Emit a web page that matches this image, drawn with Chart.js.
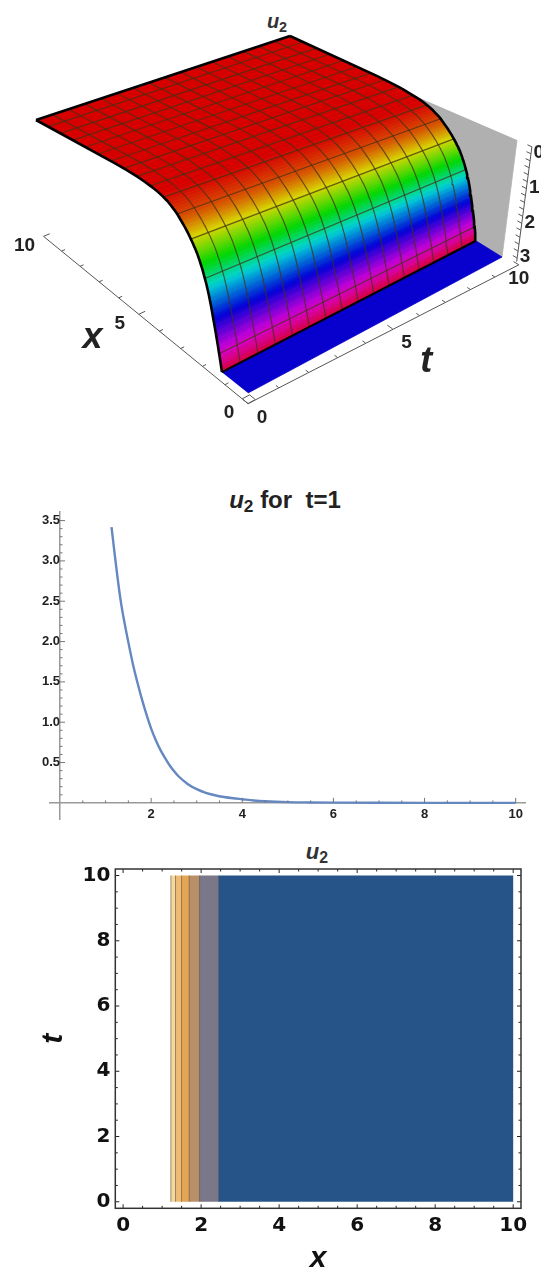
<!DOCTYPE html>
<html>
<head>
<meta charset="utf-8">
<title>u2</title>
<script src="https://cdn.jsdelivr.net/npm/chart.js@4/dist/chart.umd.min.js"></script>
<style>
  html, body { margin: 0; padding: 0; background: #fff; }
  body { position: relative; width: 541px; height: 1273px; overflow: hidden; }
  canvas { position: absolute; left: 0; }
  .plot-title { position: absolute; transform: translateX(-50%); font-family: "Liberation Sans", Arial, sans-serif; font-weight: bold; color: #222; white-space: pre; line-height: 1; }
  .plot-title sub { font-size: 72%; font-style: normal; vertical-align: -4px; line-height: 0; }
</style>
</head>
<body>
<div class="plot-title" style="left:277px;top:11px;font-size:20px;color:#333"><i>u</i><sub>2</sub></div>
<div class="plot-title" style="left:285px;top:488px;font-size:24px"><i>u</i><sub>2</sub> for  t=1</div>
<div class="plot-title" style="left:317px;top:841px;font-size:22px;color:#333"><i>u</i><sub>2</sub></div>
<canvas id="surface" width="541" height="450" style="top:0"></canvas>
<canvas id="slice" width="541" height="350" style="top:480px"></canvas>
<canvas id="contour" width="541" height="433" style="top:840px"></canvas>
<script>
// line plot, u2 at t=1
const lineX = [1.13, 1.2, 1.25, 1.3, 1.35, 1.4, 1.5, 1.6, 1.7, 1.8, 1.9, 2, 2.1, 2.2, 2.3, 2.4, 2.5, 2.6, 2.8, 3, 3.2, 3.4, 3.6, 3.8, 4, 4.25, 4.5, 5, 5.5, 6, 7, 8, 10];
const lineU = [3.42, 3.08, 2.85, 2.63, 2.44, 2.28, 1.99, 1.72, 1.49, 1.28, 1.09, 0.92, 0.78, 0.66, 0.56, 0.47, 0.395, 0.33, 0.235, 0.17, 0.125, 0.095, 0.073, 0.057, 0.045, 0.03, 0.02, 0.009, 0.005, 0.003, 0.001, 0, 0];
const sliceXTicks = [2, 4, 6, 8, 10];
const sliceYTicks = [0.5, 1, 1.5, 2, 2.5, 3, 3.5];

const surfaceX = [1.13, 1.2, 1.25, 1.3, 1.35, 1.4, 1.45, 1.5, 1.55, 1.6, 1.65, 1.7, 1.75, 1.8, 1.85, 1.9, 1.95, 2, 2.05, 2.1, 2.15, 2.2, 2.25, 2.3, 2.35, 2.4, 2.45, 2.5, 2.55, 2.6, 2.7, 2.8, 2.9, 3, 3.1, 3.2, 3.3, 3.4, 3.5, 3.6, 3.8, 4, 4.2, 4.4, 4.6, 4.8, 5, 5.5, 6, 10];
const surfaceU = [3.42, 3.2, 3.05, 2.9, 2.76, 2.62, 2.49, 2.36, 2.23, 2.1, 1.98, 1.87, 1.77, 1.67, 1.59, 1.51, 1.43, 1.35, 1.29, 1.22, 1.16, 1.1, 1.05, 1, 0.96, 0.91, 0.87, 0.83, 0.79, 0.75, 0.68, 0.61, 0.55, 0.49, 0.43, 0.38, 0.34, 0.3, 0.26, 0.23, 0.18, 0.14, 0.11, 0.09, 0.07, 0.05, 0.035, 0.015, 0.005, 0];
const meshX = [1.25, 1.875, 2.5, 3.125, 3.75, 4.375, 5, 5.625, 6.25, 6.875, 7.5, 8.125, 8.75, 9.375];
const meshT = [0.625, 1.25, 1.875, 2.5, 3.125, 3.75, 4.375, 5, 5.625, 6.25, 6.875, 7.5, 8.125, 8.75, 9.375];
const surfaceXTicks = [0, 1, 2, 3, 4, 5, 6, 7, 8, 9, 10];
const surfaceTTicks = [0, 1, 2, 3, 4, 5, 6, 7, 8, 9, 10];
const surfaceZTicks = [0, 0.2, 0.4, 0.6, 0.8, 1, 1.2, 1.4, 1.6, 1.8, 2, 2.2, 2.4, 2.6, 2.8, 3, 3.2];
const surfaceLabels = [0, 5, 10];
const surfaceZLabels = [0, 1, 2, 3];

// contour plot
const contourEdges = [1.21, 1.225, 1.344, 1.498, 1.695, 1.96, 2.448, 10];
const contourColors = ['#fdebc0', '#f8d898', '#efbb72', '#e6a552', '#b88f66', '#7a7788', '#265488'];
const contourTicks = [0, 2, 4, 6, 8, 10];
const contourMinor = [0.5, 1, 1.5, 2.5, 3, 3.5, 4.5, 5, 5.5, 6.5, 7, 7.5, 8.5, 9, 9.5];

Chart.defaults.animation = false;
Chart.defaults.responsive = false;
Chart.defaults.font.family = '"Liberation Sans", Arial, sans-serif';

// camera for the top panel: where the box corners land on the page
const camTop = quadMap([247, 235], [36, 120], [290, 36], [517, 140]);
const camBottom = quadMap([248, 393], [43, 229], [294, 128], [502, 257]);
const floorZ = 3.42;

function quadMap(p0, p1, p2, p3) {
    const dx1 = p1[0] - p2[0], dx2 = p3[0] - p2[0], sx = p0[0] - p1[0] + p2[0] - p3[0];
    const dy1 = p1[1] - p2[1], dy2 = p3[1] - p2[1], sy = p0[1] - p1[1] + p2[1] - p3[1];
    const den = dx1 * dy2 - dx2 * dy1;
    const g = (sx * dy2 - dx2 * sy) / den;
    const h = (dx1 * sy - sx * dy1) / den;
    return (u, v) => {
        const w = g * u + h * v + 1;
        return [
            ((p1[0] - p0[0] + g * p1[0]) * u + (p3[0] - p0[0] + h * p3[0]) * v + p0[0]) / w,
            ((p1[1] - p0[1] + g * p1[1]) * u + (p3[1] - p0[1] + h * p3[1]) * v + p0[1]) / w
        ];
    };
}

function project(x, t, z) {
    const a = camTop(x / 10, t / 10);
    const b = camBottom(x / 10, t / 10);
    const k = z / floorZ;
    return { x: a[0] + (b[0] - a[0]) * k, y: a[1] + (b[1] - a[1]) * k };
}

function surfaceAt(x) {
    let i = 0;
    while (i < surfaceX.length - 2 && surfaceX[i + 1] < x) i++;
    const k = (x - surfaceX[i]) / (surfaceX[i + 1] - surfaceX[i]);
    return surfaceU[i] + (surfaceU[i + 1] - surfaceU[i]) * k;
}

// rainbow over height, red on top to crimson at the floor
const hueZ = [0.15, 0.5, 0.8, 1.35, 1.8, 2.4, 3, 3.42];
const hueDeg = [0, 25, 60, 130, 190, 245, 300, 345];
function heightColor(z) {
    if (z <= hueZ[0]) return 'hsl(0,100%,42%)';
    let i = 0;
    while (i < hueZ.length - 2 && hueZ[i + 1] < z) i++;
    const h = hueDeg[i] + (hueDeg[i + 1] - hueDeg[i]) * (z - hueZ[i]) / (hueZ[i + 1] - hueZ[i]);
    return `hsl(${h},100%,42%)`;
}

function shape(points, color) {
    return { data: points, showLine: true, fill: 'shape', backgroundColor: color, borderColor: color, borderWidth: 0.8, pointRadius: 0, tension: 0 };
}
function stroke(points, color, width) {
    return { data: points, showLine: true, fill: false, borderColor: color, borderWidth: width, pointRadius: 0, tension: 0 };
}

const surfaceCtx = document.getElementById('surface').getContext('2d');

// colour runs across a strip, at right angles to its long edge
function stripGradient(a0, a1, b0, b1, zA, zB) {
    const ex = a1.x - a0.x, ey = a1.y - a0.y, len = Math.hypot(ex, ey);
    const nx = -ey / len, ny = ex / len;
    const mx = (a0.x + a1.x) / 2, my = (a0.y + a1.y) / 2;
    const d = ((b0.x + b1.x) / 2 - mx) * nx + ((b0.y + b1.y) / 2 - my) * ny;
    const g = surfaceCtx.createLinearGradient(mx, my, mx + nx * d, my + ny * d);
    g.addColorStop(0, heightColor(zA));
    g.addColorStop(1, heightColor(zB));
    return g;
}

const layers = [];
const edgeT0 = surfaceX.map((x, i) => project(x, 0, surfaceU[i]));
const edgeT10 = surfaceX.map((x, i) => project(x, 10, surfaceU[i]));

// grey back wall at t=10
layers.push(shape([project(0, 10, 0), project(0, 10, floorZ)].concat(edgeT10.filter((p, i) => surfaceX[i] <= 4.4)), '#b0b0b0'));
// blue floor
layers.push(shape([project(0, 0, floorZ), project(0, 10, floorZ), project(surfaceX[0], 10, floorZ), project(surfaceX[0], 0, floorZ)], '#0800cc'));
// surface strips
for (let i = 0; i < surfaceX.length - 1; i++) {
    const g = stripGradient(edgeT0[i], edgeT10[i], edgeT0[i + 1], edgeT10[i + 1], surfaceU[i], surfaceU[i + 1]);
    layers.push(shape([edgeT0[i], edgeT10[i], edgeT10[i + 1], edgeT0[i + 1]], g));
}
// mesh
meshX.forEach(x => {
    const z = surfaceAt(x);
    layers.push(stroke([project(x, 0, z), project(x, 10, z)], 'rgba(70,50,20,0.75)', 1.2));
});
meshT.forEach(t => {
    layers.push(stroke(surfaceX.map((x, i) => project(x, t, surfaceU[i])), 'rgba(70,50,20,0.75)', 1.2));
});
// thick outline
layers.push(stroke(edgeT0, '#000', 2.6));
layers.push(stroke(edgeT10, '#000', 2.6));
layers.push(stroke([project(10, 0, 0), project(10, 10, 0)], '#000', 2.6));
layers.push(stroke([project(surfaceX[0], 0, floorZ), project(surfaceX[0], 10, floorZ)], '#000', 2.2));

// box axes
const axisZ = 3.65;
const axisColor = '#555';
const tAxisAt = t => project(-0.07 * t, t, axisZ - 0.03 * t);
layers.push(stroke([project(0, 0, axisZ), project(10, 0, axisZ)], axisColor, 1));
layers.push(stroke([tAxisAt(0), tAxisAt(10)], axisColor, 1));
layers.push(stroke([project(-0.6, 10, 0), project(-0.6, 10, 3.3)], axisColor, 1));
layers.push(stroke([project(0.25, 0, axisZ), project(0.25, 0.25, axisZ), project(0, 0.25, axisZ)], axisColor, 1));
surfaceXTicks.forEach(x => {
    layers.push(stroke([project(x, 0, axisZ), project(x, x % 5 ? 0.12 : 0.22, axisZ)], axisColor, 1));
});
surfaceTTicks.forEach(t => {
    const q = project(-0.07 * t + (t % 5 ? 0.12 : 0.22), t, axisZ - 0.03 * t);
    layers.push(stroke([tAxisAt(t), q], axisColor, 1));
});
surfaceZTicks.forEach(z => {
    layers.push(stroke([project(-0.6, 10, z), project(-0.42, 10, z)], axisColor, 1));
});

const surfaceText = {
    id: 'surfaceText',
    afterDatasetsDraw(chart) {
        const { ctx, scales } = chart;
        const at = (p, dx, dy) => [scales.x.getPixelForValue(p.x) + dx, scales.y.getPixelForValue(p.y) + dy];
        ctx.save();
        ctx.fillStyle = '#222';
        ctx.textAlign = 'center';
        ctx.textBaseline = 'middle';
        ctx.font = 'bold 19px "Liberation Sans"';
        surfaceLabels.forEach(v => {
            ctx.fillText(String(v), ...at(project(v, 0, axisZ), -19, 9));
            ctx.fillText(String(v), ...at(tAxisAt(v), v === 10 ? 0 : 14, 14));
        });
        surfaceZLabels.forEach(v => {
            ctx.fillText(String(v), ...at(project(-0.6, 10, v), 7, 6));
        });
        ctx.font = 'italic bold 36px "Liberation Sans"';
        ctx.fillText('x', ...at(project(5.4, -1.9, axisZ), 19, 4));
        ctx.fillText('t', ...at(project(-1.3, 6.5, axisZ), -26, 32));
        ctx.restore();
    }
};

new Chart(document.getElementById('surface'), {
    type: 'scatter',
    data: { datasets: layers.slice().reverse() },
    options: {
        plugins: { legend: { display: false }, tooltip: { enabled: false } },
        scales: {
            x: { type: 'linear', display: false, min: 0, max: 541 },
            y: { type: 'linear', display: false, min: 0, max: 450, reverse: true }
        }
    },
    plugins: [surfaceText]
});

// minor ticks, Chart.js has none of its own
const sliceMarks = {
    id: 'sliceMarks',
    afterDatasetsDraw(chart) {
        const { ctx, scales: { x, y } } = chart;
        const y0 = y.getPixelForValue(0), x0 = x.getPixelForValue(0);
        ctx.save();
        ctx.strokeStyle = '#777';
        ctx.lineWidth = 1;
        ctx.beginPath();
        for (let i = 1; i <= 20; i++) {
            const px = x.getPixelForValue(i / 2);
            ctx.moveTo(px, y0);
            ctx.lineTo(px, y0 - (i % 4 === 0 ? 5 : 2.5));
        }
        for (let i = 1; i <= 35; i++) {
            const py = y.getPixelForValue(i / 10);
            ctx.moveTo(x0, py);
            ctx.lineTo(x0 + (i % 5 === 0 ? 5 : 2.5), py);
        }
        ctx.stroke();
        ctx.restore();
    }
};

// keep the plot area where the padding says, whatever the label sizes
const noScalePadding = s => {
    s.paddingLeft = s.paddingRight = s.paddingTop = s.paddingBottom = 0;
};

new Chart(document.getElementById('slice'), {
    type: 'scatter',
    data: {
        datasets: [{
            data: lineX.map((x, i) => ({ x, y: lineU[i] })),
            showLine: true,
            borderColor: '#6488bf',
            borderWidth: 2.4,
            pointRadius: 0,
            cubicInterpolationMode: 'monotone'
        }]
    },
    options: {
        layout: { padding: { left: 50, right: 15.3, top: 31.7, bottom: 11 } },
        plugins: { legend: { display: false }, tooltip: { enabled: false } },
        scales: {
            x: {
                type: 'linear', min: -0.22, max: 10.22, position: { y: 0 },
                afterFit: noScalePadding,
                grid: { display: false, drawTicks: false },
                border: { color: '#999', width: 1.5 },
                afterBuildTicks: s => { s.ticks = sliceXTicks.map(value => ({ value })); },
                ticks: { color: '#222', font: { size: 13, weight: 'bold' }, padding: 4, autoSkip: false, maxRotation: 0 }
            },
            y: {
                type: 'linear', min: -0.2, max: 3.61, position: { x: 0 },
                afterFit: noScalePadding,
                grid: { display: false, drawTicks: false },
                border: { color: '#999', width: 1.5 },
                afterBuildTicks: s => { s.ticks = sliceYTicks.map(value => ({ value })); },
                ticks: { color: '#222', font: { size: 13, weight: 'bold' }, padding: 9, autoSkip: false, callback: v => Number(v).toFixed(1) }
            }
        }
    },
    plugins: [sliceMarks]
});

// frame and inward ticks on all four sides
const contourFrame = {
    id: 'contourFrame',
    afterDatasetsDraw(chart) {
        const { ctx, chartArea: a, scales: { x, y } } = chart;
        ctx.save();
        ctx.strokeStyle = '#222';
        ctx.lineWidth = 1;
        ctx.beginPath();
        const mark = (v, len) => {
            const px = x.getPixelForValue(v), py = y.getPixelForValue(v);
            ctx.moveTo(px, a.bottom); ctx.lineTo(px, a.bottom - len);
            ctx.moveTo(px, a.top); ctx.lineTo(px, a.top + len);
            ctx.moveTo(a.left, py); ctx.lineTo(a.left + len, py);
            ctx.moveTo(a.right, py); ctx.lineTo(a.right - len, py);
        };
        contourTicks.forEach(v => mark(v, 4));
        contourMinor.forEach(v => mark(v, 2.5));
        ctx.stroke();
        ctx.lineWidth = 1.5;
        ctx.strokeStyle = '#333';
        ctx.strokeRect(a.left, a.top, a.right - a.left, a.bottom - a.top);
        ctx.restore();
    }
};

const contourSets = [];
contourColors.forEach((color, i) => {
    const a = contourEdges[i], b = contourEdges[i + 1];
    contourSets.push({
        data: [{ x: a, y: 0 }, { x: b, y: 0 }, { x: b, y: 10 }, { x: a, y: 10 }],
        showLine: true, fill: 'shape', backgroundColor: color, borderWidth: 0, pointRadius: 0
    });
});
contourEdges.slice(1, -1).forEach(e => {
    contourSets.push({
        data: [{ x: e, y: 0 }, { x: e, y: 10 }],
        showLine: true, fill: false, borderColor: 'rgba(60,50,50,0.5)', borderWidth: 1, pointRadius: 0
    });
});

new Chart(document.getElementById('contour'), {
    type: 'scatter',
    data: { datasets: contourSets.reverse() },
    options: {
        layout: { padding: { top: 29, right: 20 } },
        plugins: { legend: { display: false }, tooltip: { enabled: false } },
        scales: {
            x: {
                type: 'linear', min: -0.2, max: 10.2,
                afterFit: s => { s.height = 64.7; },
                grid: { display: false, drawTicks: false },
                border: { display: false },
                afterBuildTicks: s => { s.ticks = contourTicks.map(value => ({ value })); },
                ticks: { color: '#111', font: { family: '"DejaVu Sans"', size: 20, weight: 'bold' }, padding: 5, autoSkip: false, maxRotation: 0 },
                title: { display: true, text: 'x', color: '#111', font: { size: 30, weight: 'bold', style: 'italic' }, padding: { top: 0, bottom: -4 } }
            },
            y: {
                type: 'linear', min: -0.2, max: 10.2,
                afterFit: s => { s.width = 115.3; },
                grid: { display: false, drawTicks: false },
                border: { display: false },
                afterBuildTicks: s => { s.ticks = contourTicks.map(value => ({ value })); },
                ticks: { color: '#111', font: { family: '"DejaVu Sans"', size: 20, weight: 'bold' }, padding: 5, autoSkip: false },
                title: { display: true, text: 't', color: '#111', font: { size: 30, weight: 'bold', style: 'italic' }, padding: { top: 36, bottom: 0 } }
            }
        }
    },
    plugins: [contourFrame]
});
</script>
</body>
</html>
